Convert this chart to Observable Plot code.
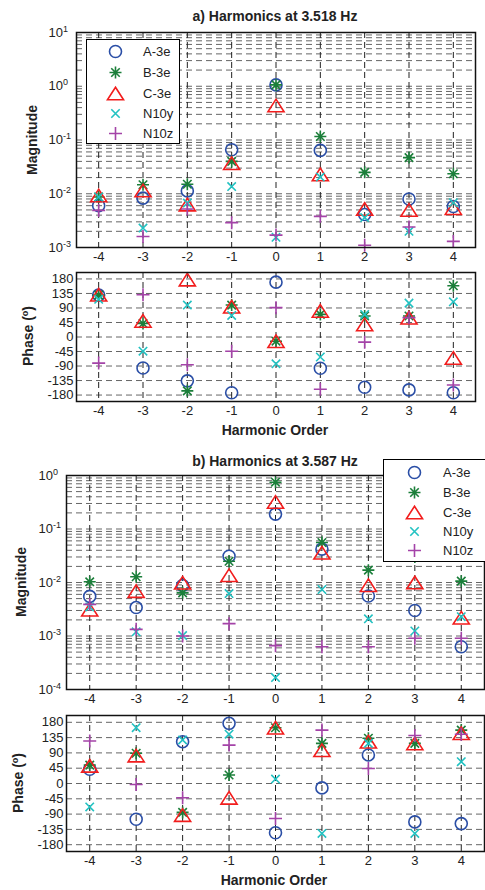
<!DOCTYPE html>
<html>
<head>
<meta charset="utf-8">
<script src="https://cdn.jsdelivr.net/npm/d3@7"></script>
<script src="https://cdn.jsdelivr.net/npm/@observablehq/plot@0.6"></script>
<style>
  body { margin: 0; background: #fff; }
  #page { position: relative; width: 485px; height: 890px; overflow: hidden;
          font-family: "Liberation Sans", Arial, sans-serif; color: #222; }
  #page svg.panel { position: absolute; left: 0; }
  .lbl { position: absolute; white-space: nowrap; font-weight: bold; font-size: 14px; }
  .title, .xlab { transform: translate(-50%, -50%); }
  .ylab { transform: translate(-50%, -50%) rotate(-90deg); }
  .ylab sup { font-size: 9px; }
  .legend { position: absolute; background: #fff; border: 1px solid #000; box-sizing: border-box; }
  .legend .item { position: absolute; font-size: 13px; transform: translateY(-50%); }
  .legend svg { position: absolute; overflow: visible; }
</style>
</head>
<body>
<div id="page"></div>
<script>
// Harmonic orders on the x axis
const orders = [-4, -3, -2, -1, 0, 1, 2, 3, 4];
const seriesNames = ["A-3e", "B-3e", "C-3e", "N10y", "N10z"];
const phaseTicks = [180, 135, 90, 45, 0, -45, -90, -135, -180];

// a) Harmonics at 3.518 Hz — magnitude
const magA_a = [0.0060, 0.0083, 0.0113, 0.066, 1.06, 0.064, 0.0041, 0.0080, 0.0058];
const magB_a = [0.0087, 0.0147, 0.0150, 0.040, 1.06, 0.116, 0.025, 0.047, 0.0236];
const magC_a = [0.0093, 0.0115, 0.0063, 0.037, 0.44, 0.0229, 0.0052, 0.0050, 0.0054];
const magY_a = [0.0087, 0.0023, 0.0067, 0.0136, 0.00155, 0.0204, 0.0036, 0.0020, 0.0068];
const magZ_a = [0.0049, 0.0016, 0.0052, 0.0029, 0.0017, 0.0038, 0.0011, 0.0024, 0.0013];

// a) Harmonics at 3.518 Hz — phase (degrees)
const phA_a = [130, -96, -136, -173, 170, -97, -156, -164, -173];
const phB_a = [130, 42, -167, 99, -13, 70, 65, 65, 159];
const phC_a = [131, 50, 178, 94, -13, 81, 39, 60, -65];
const phY_a = [117, -44, 99, 67, -83, -62, 70, 105, 109];
const phZ_a = [-81, 131, -86, -44, 91, -162, -16, 60, -149];

// b) Harmonics at 3.587 Hz — magnitude
const magA_b = [0.0055, 0.0034, 0.0088, 0.031, 0.19, 0.042, 0.0056, 0.0030, 0.00063];
const magB_b = [0.0103, 0.0128, 0.0064, 0.025, 0.75, 0.056, 0.017, 0.030, 0.0106];
const magC_b = [0.0031, 0.0069, 0.0099, 0.0137, 0.32, 0.036, 0.0089, 0.0100, 0.0022];
const magY_b = [0.0035, 0.0012, 0.00102, 0.0062, 0.000167, 0.0074, 0.0021, 0.00124, 0.0023];
const magZ_b = [0.0039, 0.00133, 0.0010, 0.0017, 0.00066, 0.00063, 0.00063, 0.00091, 0.00091];

// b) Harmonics at 3.587 Hz — phase (degrees)
const phA_b = [42, -105, 123, 177, -145, -13, 84, -113, -118];
const phB_b = [54, 89, -85, 25, 164, 118, 133, 118, 157];
const phC_b = [52, 82, -93, -42, 164, 98, 123, 118, 148];
const phY_b = [-69, 164, 128, 145, 13, -147, 118, -147, 64];
const phZ_b = [125, -3, -42, 113, -103, 157, 44, 141, 145];

// Marker shapes: r is the radius / half-extent of each marker
const circleSym = { draw(ctx, size) { const r = Math.sqrt(size / Math.PI); ctx.moveTo(r, 0); ctx.arc(0, 0, r, 0, 2 * Math.PI); } };
const starSym = { draw(ctx, size) {
  const r = Math.sqrt(size / Math.PI);
  for (let i = 0; i < 4; i++) {
    const a = i * Math.PI / 4, c = Math.cos(a) * r, s = Math.sin(a) * r;
    ctx.moveTo(c, s); ctx.lineTo(-c, -s);
  }
} };
const triSym = { draw(ctx, size) {
  const s = Math.sqrt(size / Math.PI);
  ctx.moveTo(0, -0.9 * s); ctx.lineTo(1.15 * s, 0.9 * s); ctx.lineTo(-1.15 * s, 0.9 * s); ctx.closePath();
} };
const timesSym = { draw(ctx, size) {
  const r = Math.sqrt(size / Math.PI);
  ctx.moveTo(-r, -r); ctx.lineTo(r, r); ctx.moveTo(r, -r); ctx.lineTo(-r, r);
} };
const plusSym = { draw(ctx, size) {
  const r = Math.sqrt(size / Math.PI);
  ctx.moveTo(-r, 0); ctx.lineTo(r, 0); ctx.moveTo(0, -r); ctx.lineTo(0, r);
} };

const styles = [
  { symbol: circleSym, color: "#2a4ea6", r: 6 },
  { symbol: starSym,   color: "#1b7f3a", r: 6 },
  { symbol: triSym,    color: "#f21d1d", r: 7 },
  { symbol: timesSym,  color: "#22c2c2", r: 4.2 },
  { symbol: plusSym,   color: "#a443a8", r: 6.5 }
];

const table = arr => orders.map((o, i) => ({ order: o, value: arr[i] }));

function logGrid(lo, hi) {
  const v = [];
  for (let e = lo; e < hi; e++) for (let k = 1; k < 10; k++) v.push(k * Math.pow(10, e));
  v.push(Math.pow(10, hi));
  return v;
}

const page = document.getElementById("page");

function panel({ top, height, mt, mb, ml, mr, yScale, gridY, ticksY, fmtY, series }) {
  const marks = [
    Plot.ruleY(gridY, { stroke: "#666", strokeWidth: 1, strokeDasharray: "6,4" }),
    Plot.ruleX(orders, { stroke: "#222", strokeWidth: 1, strokeDasharray: "6,4" }),
    ...series.map((arr, i) => Plot.dot(table(arr), {
      x: "order", y: "value", symbol: styles[i].symbol, r: styles[i].r,
      stroke: styles[i].color, fill: "none", strokeWidth: 1.6
    })),
    Plot.frame({ stroke: "#111", strokeWidth: 1.5 }),
    Plot.axisX({ ticks: orders, tickFormat: d => String(d), tickSize: 0, tickPadding: 4, label: null }),
    Plot.axisY({ ticks: ticksY, tickFormat: fmtY, tickSize: 0, tickPadding: 3, label: null })
  ];
  const svg = Plot.plot({
    width: 485, height,
    marginTop: mt, marginBottom: mb, marginLeft: ml, marginRight: mr,
    x: { domain: [-4.5, 4.5] },
    y: yScale,
    style: { fontSize: "13px", fontFamily: "Liberation Sans, Arial, sans-serif", color: "#222", background: "transparent", overflow: "visible" },
    marks
  });
  svg.classList.add("panel");
  svg.style.top = top + "px";
  // Power-of-ten labels: base "10" with raised exponent
  svg.querySelectorAll("text").forEach(t => {
    const s = t.textContent;
    if (/^10\^/.test(s)) {
      const exp = s.slice(3);
      t.textContent = "";
      t.setAttribute("text-anchor", "start");
      const ns = "http://www.w3.org/2000/svg";
      const base = document.createElementNS(ns, "tspan");
      base.setAttribute("dx", "-25");
      base.textContent = "10";
      const sup = document.createElementNS(ns, "tspan");
      sup.setAttribute("dy", "-0.55em");
      sup.setAttribute("font-size", "9px");
      sup.textContent = exp;
      t.appendChild(base); t.appendChild(sup);
    }
  });
  page.appendChild(svg);
}

const powFmt = d => "10^" + Math.round(Math.log10(d));

// a) magnitude
panel({ top: 0, height: 262, mt: 32, mb: 15, ml: 76, mr: 10,
  yScale: { type: "log", domain: [1e-3, 10] }, gridY: logGrid(-3, 1),
  ticksY: [10, 1, 0.1, 0.01, 0.001], fmtY: powFmt,
  series: [magA_a, magB_a, magC_a, magY_a, magZ_a] });
// a) phase
panel({ top: 262, height: 183, mt: 10, mb: 44, ml: 76, mr: 10,
  yScale: { domain: [-200, 200] }, gridY: phaseTicks,
  ticksY: phaseTicks, fmtY: d => String(d),
  series: [phA_a, phB_a, phC_a, phY_a, phZ_a] });
// b) magnitude
panel({ top: 445, height: 260, mt: 30, mb: 16, ml: 66, mr: 1,
  yScale: { type: "log", domain: [1e-4, 1] }, gridY: logGrid(-4, 0),
  ticksY: [1, 0.1, 0.01, 0.001, 0.0001], fmtY: powFmt,
  series: [magA_b, magB_b, magC_b, magY_b, magZ_b] });
// b) phase
panel({ top: 705, height: 185, mt: 10, mb: 39, ml: 66, mr: 1,
  yScale: { domain: [-200, 200] }, gridY: phaseTicks,
  ticksY: phaseTicks, fmtY: d => String(d),
  series: [phA_b, phB_b, phC_b, phY_b, phZ_b] });

function label(cls, html, x, y) {
  const d = document.createElement("div");
  d.className = "lbl " + cls;
  d.style.left = x + "px"; d.style.top = y + "px";
  d.innerHTML = html;
  page.appendChild(d);
}
label("title", "a) Harmonics at 3.518 Hz", 275, 16);
label("title", "b) Harmonics at 3.587 Hz", 275, 461);
label("xlab", "Harmonic Order", 275, 430);
label("xlab", "Harmonic Order", 274, 880);
label("ylab", "Magnitude", 32, 140);
label("ylab", "Phase (<sup>o</sup>)", 28, 336);
label("ylab", "Magnitude", 21, 582);
label("ylab", "Phase (<sup>o</sup>)", 18, 783);

function legend(left, top, width, height, rowYs, markerX, textX) {
  const box = document.createElement("div");
  box.className = "legend";
  Object.assign(box.style, { left: left + "px", top: top + "px", width: width + "px", height: height + "px" });
  seriesNames.forEach((name, i) => {
    const st = styles[i];
    const path = d3.symbol(st.symbol, Math.PI * st.r * st.r)();
    const svg = d3.create("svg").attr("width", 1).attr("height", 1)
      .style("left", (markerX - 1) + "px").style("top", (rowYs[i] - 1) + "px");
    svg.append("path").attr("d", path).attr("transform", "translate(0.5,0.5)")
      .attr("fill", "none").attr("stroke", st.color).attr("stroke-width", 1.6);
    box.appendChild(svg.node());
    const t = document.createElement("div");
    t.className = "item";
    t.style.left = (textX - 1) + "px"; t.style.top = (rowYs[i] - 1) + "px";
    t.textContent = name;
    box.appendChild(t);
  });
  page.appendChild(box);
}
legend(86, 39, 94, 105, [11.5, 33, 53.5, 73.5, 93.5], 29, 57);
legend(383, 459, 110, 103, [12.5, 32.5, 52.5, 71.5, 90.5], 31, 60);
</script>
</body>
</html>
